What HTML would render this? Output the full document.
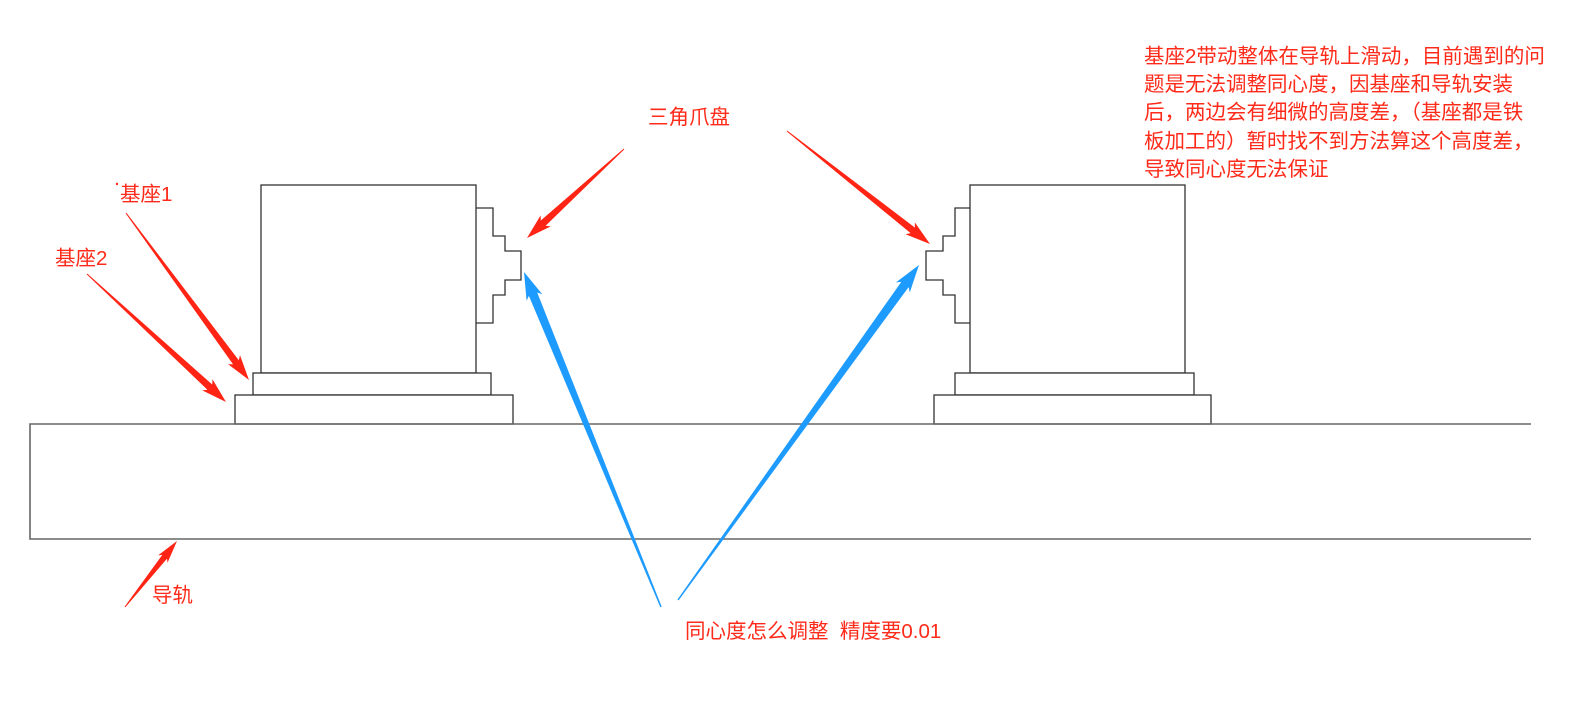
<!DOCTYPE html>
<html><head><meta charset="utf-8"><style>
html,body{margin:0;padding:0;background:#fff;}
body{width:1575px;height:704px;position:relative;overflow:hidden;font-family:"Liberation Sans","Noto Sans CJK SC",sans-serif;color:#ff2b1a;}
.t{position:absolute;white-space:nowrap;font-size:20.5px;line-height:22px;}
.p{position:absolute;left:1144px;top:43px;font-size:20.5px;line-height:28.2px;white-space:nowrap;}
svg{position:absolute;left:0;top:0;}
</style></head><body>
<svg id="s" width="1575" height="704" viewBox="0 0 1575 704">
<g fill="#fff" stroke="#333" stroke-width="1.3">
<rect x="261" y="185" width="215" height="188"/>
<rect x="253" y="373" width="238" height="22"/>
<rect x="235" y="395" width="278" height="29"/>
<polyline fill="none" points="476,208 493,208 493,236 505,236 505,251 521,251 521,280 505,280 505,295 493,295 493,323 476,323"/>
<rect x="970" y="185" width="215" height="188"/>
<rect x="955" y="373" width="239" height="22"/>
<rect x="934" y="395" width="277" height="29"/>
<polyline fill="none" points="970,208 955,208 955,236 943,236 943,251 926,251 926,280 943,280 943,295 955,295 955,323 970,323"/>
</g>
<polyline fill="none" stroke="#666" stroke-width="1.6" points="1531,424 30,424 30,539 1531,539"/>
<circle cx="117" cy="184" r="1.2" fill="#ff2b1a"/>
</svg>
<div class="t" style="left:120px;top:184px;">基座1</div>
<div class="t" style="left:55px;top:248px;">基座2</div>
<div class="t" style="left:648px;top:107px;">三角爪盘</div>
<div class="t" style="left:152px;top:585px;">导轨</div>
<div class="t" style="left:685px;top:621px;">同心度怎么调整&nbsp;&nbsp;精度要0.01</div>
<div class="p">基座2带动整体在导轨上滑动，目前遇到的问<br>题是无法调整同心度，因基座和导轨安装<br>后，两边会有细微的高度差，（基座都是铁<br>板加工的）暂时找不到方法算这个高度差，<br>导致同心度无法保证</div>
<script>
var s=document.getElementById('s');
function arr(x1,y1,x2,y2,col,w,L,H,tw){
 var dx=x2-x1,dy=y2-y1,d=Math.hypot(dx,dy),ux=dx/d,uy=dy/d,nx=-uy,ny=ux;
 var bx=x2-ux*L,by=y2-uy*L, bx2=x2-ux*(L*1.15),by2=y2-uy*(L*1.15);
 var pts=[[x1+nx*tw/2,y1+ny*tw/2],[bx+nx*w/2,by+ny*w/2],[bx2+nx*H/2,by2+ny*H/2],[x2,y2],[bx2-nx*H/2,by2-ny*H/2],[bx-nx*w/2,by-ny*w/2],[x1-nx*tw/2,y1-ny*tw/2]];
 var p=document.createElementNS('http://www.w3.org/2000/svg','polygon');
 p.setAttribute('points',pts.map(function(q){return q[0].toFixed(1)+','+q[1].toFixed(1)}).join(' '));
 p.setAttribute('fill',col);s.appendChild(p);
}
var R='#ff2414',B='#1e9bff';
arr(126,213,249,380,R,7,22,15,1);
arr(87,274,226,402,R,7,22,15,1);
arr(624,149,527,238,R,7,22,15,1);
arr(787,131,930,244,R,7,22,15,1);
arr(125,607,177,541,R,6,20,12,1);
arr(661,607,524,272,B,9,24,17,1.5);
arr(678,600,919,265,B,9,24,17,1.5);
</script>
</body></html>
